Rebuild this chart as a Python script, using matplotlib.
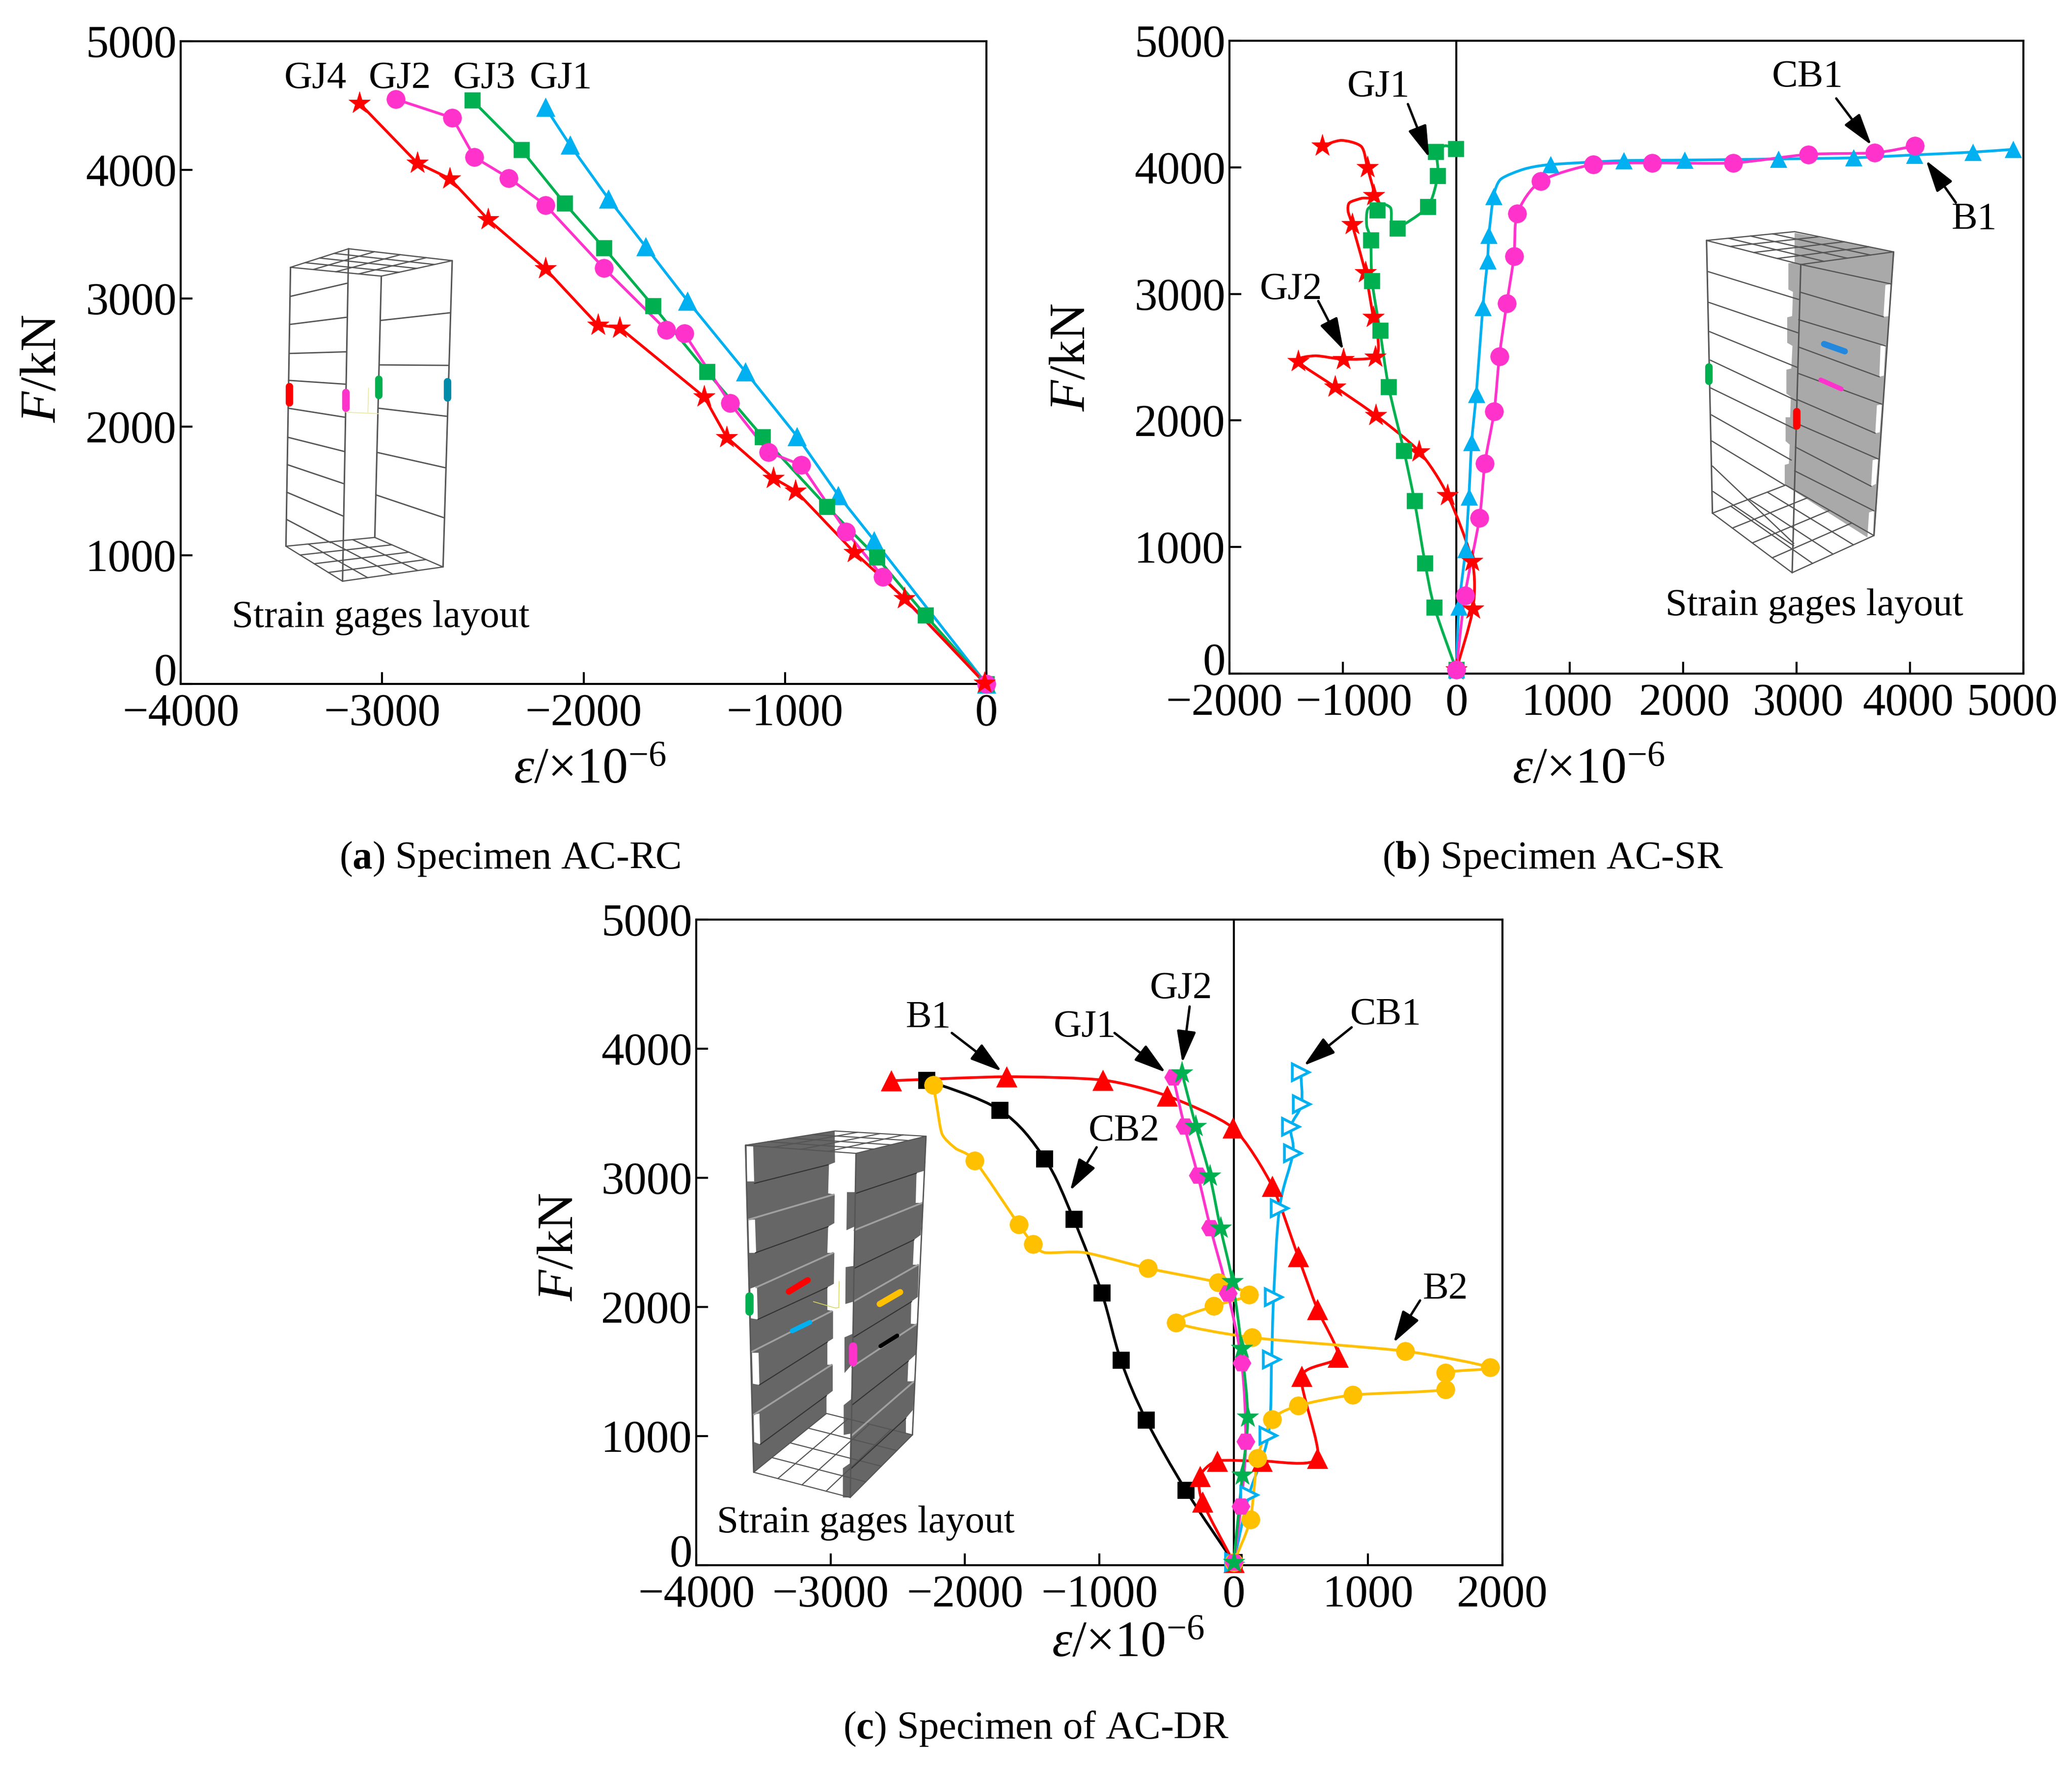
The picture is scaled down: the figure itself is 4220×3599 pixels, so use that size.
import numpy as np
import matplotlib
matplotlib.use("Agg")
import matplotlib.pyplot as plt
from matplotlib.path import Path
from matplotlib.patches import PathPatch, Polygon
from matplotlib.transforms import ScaledTranslation

plt.rcParams["font.family"] = ["Liberation Serif", "DejaVu Serif"]
plt.rcParams["mathtext.fontset"] = "custom"
plt.rcParams["mathtext.rm"] = "Liberation Serif"
plt.rcParams["mathtext.it"] = "Liberation Serif:italic"
plt.rcParams["mathtext.bf"] = "Liberation Serif:bold"

W, H = 4220, 3599
RED, MAG, GRN, BLU, YEL = "#FF0000", "#FF33CC", "#00B050", "#00B0F0", "#FFC000"

# -----------------------------
# PANEL A DATA (strain, load)
# -----------------------------
a_gj1_x = [-2190, -2068, -1876, -1692, -1484, -1197, -940, -735, -557, 0]
a_gj1_y = [4487, 4194, 3774, 3402, 2981, 2430, 1926, 1467, 1116, 0]
a_gj3_x = [-2552, -2308, -2094, -1899, -1655, -1388, -1111, -791, -544, -303, 0]
a_gj3_y = [4540, 4155, 3739, 3393, 2942, 2430, 1922, 1379, 985, 534, 0]
a_gj2_x = [-2932, -2651, -2542, -2371, -2190, -1899, -1590, -1500, -1273, -1082, -920, -696, -514, 0]
a_gj2_y = [4549, 4404, 4098, 3936, 3726, 3235, 2754, 2727, 2185, 1804, 1703, 1186, 832, 0]
a_gj4_x = [-3113, -2826, -2664, -2473, -2190, -1929, -1820, -1401, -1289, -1058, -947, -656, -406, -10]
a_gj4_y = [4518, 4054, 3931, 3612, 3231, 2793, 2771, 2233, 1918, 1602, 1502, 1024, 665, 9]

# -----------------------------
# PANEL B DATA
# -----------------------------
b_b1_x = [4911, 4553, 4038, 3500, 2839, 2013, 1475, 831, 328, 287, 275, 234, 176, 135, 111, 82, 23, 0]
b_b1_y = [4142, 4120, 4098, 4075, 4066, 4057, 4053, 4022, 3769, 3462, 3262, 2893, 2209, 1826, 1395, 982, 529, 30]
# curve, it does not bend only at the markers
b_b1_line_x = [4911, 4553, 4038, 3500, 2839, 2013, 1475, 831, 597, 392, 328, 287, 275, 234, 176, 135, 111, 82, 23, 0]
b_b1_line_y = [4142, 4120, 4098, 4075, 4066, 4057, 4053, 4022, 3986, 3906, 3769, 3462, 3262, 2893, 2209, 1826, 1395, 982, 529, 30]
b_cb1_x = [4044, 3687, 3102, 2441, 1727, 1206, 743, 538, 509, 445, 380, 334, 252, 205, 76, 0]
b_cb1_y = [4169, 4115, 4102, 4035, 4035, 4022, 3889, 3635, 3298, 2924, 2507, 2071, 1662, 1231, 618, 30]
b_gj1_x = [-6, -181, -164, -252, -521, -696, -755, -743, -673, -597, -462, -369, -275, -193, 0]
b_gj1_y = [4146, 4124, 3933, 3689, 3520, 3662, 3426, 3102, 2711, 2267, 1760, 1364, 871, 524, 30]
b_gj1_line_x = [-6, -100, -170, -164, -252, -521, -570, -580, -680, -780, -790, -755, -743, -673, -597, -462, -369, -275, -193, 0]
b_gj1_line_y = [4146, 4170, 4110, 3933, 3689, 3520, 3560, 3680, 3715, 3670, 3540, 3426, 3102, 2711, 2267, 1760, 1364, 871, 524, 30]
b_gj2_x = [0, 146, 140, -76, -328, -708, -1071, -1393, -995, -714, -732, -802, -919, -726, -784, -1182]
b_gj2_y = [30, 511, 889, 1409, 1755, 2040, 2266, 2466, 2484, 2502, 2818, 3169, 3551, 3777, 4000, 4169]
b_gj2_line_x = [0, 146, 140, -76, -328, -708, -1071, -1393, -1247, -995, -714, -691, -732, -802, -919, -954, -942, -837, -726, -784, -837, -1013, -1182]
b_gj2_line_y = [30, 511, 889, 1409, 1755, 2040, 2266, 2466, 2511, 2484, 2502, 2653, 2818, 3169, 3551, 3653, 3720, 3755, 3777, 4000, 4164, 4213, 4169]
b_tick_shift = [-11, 22, 1, -5, 3, 3, -4, -23]

# -----------------------------
# PANEL C DATA
# -----------------------------
c_cb2_x = [-2288, -1740, -1408, -1191, -983, -840, -652, -356, 0]
c_cb2_y = [3757, 3525, 3150, 2679, 2112, 1588, 1126, 580, 22]
c_b1_x = [-2550, -1690, -974, -494, -5, 287, 479, 623, 776, 504, 623, 208, -124, -252, -232, 0]
c_b1_y = [3752, 3783, 3757, 3634, 3386, 2936, 2391, 1981, 1614, 1462, 829, 807, 807, 689, 489, 22]
c_gj1_x = [-450, -366, -267, -173, -44, 59, 89, 54, 0]
c_gj1_y = [3778, 3399, 3019, 2613, 2107, 1566, 960, 458, 22]
c_gj2_x = [-385, -282, -178, -99, -10, 59, 104, 64, 0]
c_gj2_y = [3813, 3399, 3015, 2613, 2199, 1680, 1147, 698, 22]
c_cb1_x = [499, 504, 425, 440, 341, 297, 282, 257, 114, 0]
c_cb1_y = [3818, 3569, 3394, 3189, 2766, 2077, 1592, 1003, 545, 22]
c_b2_x = [-2234, -1927, -1601, -1492, -638, -114, 114, -148, -430, 138, 1275, 1908, 1577, 1577, 885, 479, 287, 178, 124, 0]
c_b2_y = [3717, 3133, 2640, 2487, 2299, 2190, 2094, 2007, 1880, 1763, 1658, 1531, 1492, 1361, 1318, 1235, 1130, 829, 353, 22]
c_b2_line_x = [-2234, -2209, -2170, -2071, -1927, -1601, -1492, -1403, -1107, -638, -114, 114, -148, -430, 138, 1275, 1908, 1577, 1577, 885, 479, 287, 178, 124, 0]
c_b2_line_y = [3717, 3556, 3338, 3229, 3133, 2640, 2487, 2421, 2421, 2299, 2190, 2094, 2007, 1880, 1763, 1658, 1531, 1492, 1361, 1318, 1235, 1130, 829, 353, 22]

y_ticks = [0, 1000, 2000, 3000, 4000, 5000]


def smooth_line(ax, xs, ys, color, lw=4.0, tension=1.0):
    # catmull-rom through the read points, same look as the original curves
    p = np.column_stack([xs, ys]).astype(float)
    verts, codes = [p[0]], [Path.MOVETO]
    for i in range(len(p) - 1):
        p0 = p[max(i - 1, 0)]
        p3 = p[min(i + 2, len(p) - 1)]
        c1 = p[i] + tension * (p[i + 1] - p0) / 6
        c2 = p[i + 1] - tension * (p3 - p[i]) / 6
        verts += [c1, c2, p[i + 1]]
        codes += [Path.CURVE4] * 3
    ax.add_patch(PathPatch(Path(verts, codes), fill=False, edgecolor=color, lw=lw, clip_on=False, zorder=3))


def series(ax, xs, ys, color, marker, ms, curved=True, mfc=None, tension=1.0, line=None):
    lx, ly = (xs, ys) if line is None else line
    if curved:
        smooth_line(ax, lx, ly, color, tension=tension)
    else:
        ax.plot(lx, ly, color=color, lw=4.0, clip_on=False, zorder=3)
    ax.plot(xs, ys, ls="none", marker=marker, ms=ms, mfc=color if mfc is None else mfc, mec=color,
            mew=4.0 if mfc is not None else 0.5, clip_on=False, zorder=4)


def make_axes(x0, y0, x1, y1, xlim, xticks, xlabel_xy, ylabel_xy):
    ax = fig.add_axes([x0 / W, 1 - y1 / H, (x1 - x0) / W, (y1 - y0) / H])
    ax.set_xlim(*xlim)
    ax.set_ylim(0, 5000)
    ax.set_xticks(xticks)
    ax.set_yticks(y_ticks)
    ax.set_xticklabels([str(t).replace("-", "\u2212") for t in xticks])
    ax.tick_params(direction="in", length=17, width=3, labelsize=67, pad=14, top=False, right=False)
    ax.tick_params(axis="y", pad=6)
    # the 0 on the load axis sits a bit higher so it clears the strain labels
    zero = ax.get_yticklabels()[0]
    zero.set_transform(zero.get_transform() + ScaledTranslation(0, 0.30, fig.dpi_scale_trans))
    for sp in ax.spines.values():
        sp.set_linewidth(3)
    ax.patch.set_alpha(0)
    ov.text(*ylabel_xy, r"$\mathit{F}$/kN", fontsize=75, rotation=90, ha="center", va="center")
    ov.text(*xlabel_xy, "$\\mathit{\u03b5}$/\u00d710$^{\u22126}$", fontsize=75, ha="center", va="center")
    return ax


def arrow(x0, y0, x1, y1):
    ov.annotate("", xy=(x1, y1), xytext=(x0, y0),
                arrowprops=dict(arrowstyle="-|>,head_length=0.8,head_width=0.24", color="k", lw=3.5,
                                mutation_scale=50, shrinkA=0, shrinkB=0))


def zmap(ox, oy, sx, sy):
    return lambda pts: [(ox + x / sx, oy + y / sy) for x, y in pts]


def wire(m, pts, lw=2.2, color="#555555"):
    q = np.array(m(pts))
    ov.plot(q[:, 0], q[:, 1], color=color, lw=lw, solid_capstyle="round", zorder=2)


def fill(m, pts, color, z=1):
    ov.add_patch(Polygon(m(pts), closed=True, fc=color, ec="none", zorder=z))


def grid4(m, a, b, c, d, n=4, lw=1.8):
    a, b, c, d = [np.array(v, float) for v in (a, b, c, d)]
    wire(m, [a, b, c, d, a], lw)
    for k in range(1, n):
        t = k / n
        wire(m, [a + (b - a) * t, d + (c - d) * t], lw)
        wire(m, [a + (d - a) * t, b + (c - b) * t], lw)


def gauge(m, p0, p1, color, lw):
    q = np.array(m([p0, p1]))
    ov.plot(q[:, 0], q[:, 1], color=color, lw=lw, solid_capstyle="round", zorder=5)


def inset_a():
    m = zmap(540, 480, 3, 2.063)
    grid4(m, (155, 133), (510, 55), (1143, 105), (710, 170))
    grid4(m, (127, 1305), (670, 1268), (1087, 1392), (473, 1452))
    for e in [[(155, 133), (127, 1305)], [(510, 55), (473, 1452)], [(710, 170), (670, 1268)], [(1143, 105), (1087, 1392)]]:
        wire(m, e)
    for e in [[(155, 255), (500, 200)], [(150, 373), (497, 343)], [(147, 495), (495, 488)], [(143, 608), (490, 624)],
              [(140, 725), (488, 763)], [(138, 847), (485, 907)], [(135, 962), (480, 1042)], [(132, 1078), (476, 1178)],
              [(130, 1192), (400, 1290)], [(708, 356), (1130, 324)], [(700, 543), (1118, 545)], [(692, 725), (1110, 759)],
              [(686, 911), (1100, 975)], [(680, 1090), (1092, 1185)]]:
        wire(m, e, 2.0)
    wire(m, [(493, 742), (695, 748)], 1.2, "#E8E8A0")
    wire(m, [(628, 742), (632, 640)], 1.2, "#E8E8A0")
    gauge(m, (147, 634), (147, 702), RED, 11)
    gauge(m, (493, 658), (493, 725), MAG, 11)
    gauge(m, (692, 603), (692, 670), GRN, 11)
    gauge(m, (1112, 612), (1112, 680), "#008CA8", 11)


def inset_b():
    m = zmap(3440, 450, 3, 2.063)
    grey = "#A9A9A9"
    grid4(m, (143, 1228), (590, 1110), (1130, 1322), (630, 1478))
    fill(m, [(645, 50), (1250, 130), (1130, 1322), (1090, 1330), (585, 1110), (585, 1025), (610, 1020), (615, 940), (590, 925),
             (590, 825), (618, 825), (622, 740), (595, 725), (595, 625), (625, 620), (632, 525), (600, 512), (600, 405),
             (630, 400), (635, 298), (607, 288), (607, 178), (645, 175)], grey)
    for s in [[(1200, 270), (1232, 265), (1220, 400), (1188, 403)], [(1170, 525), (1200, 520), (1190, 650), (1163, 655)],
              [(1148, 775), (1178, 770), (1165, 888), (1138, 892)], [(1122, 1005), (1155, 1000), (1142, 1105), (1113, 1115)],
              [(1100, 1225), (1130, 1218), (1125, 1322), (1090, 1330)]]:
        fill(m, s, "white", 1.5)
    grid4(m, (107, 82), (645, 45), (1250, 130), (683, 183))
    for e in [[(107, 82), (143, 1228)], [(683, 183), (630, 1478)], [(1250, 130), (1130, 1322)]]:
        wire(m, e)
    for e in [[(117, 213), (670, 330)], [(120, 342), (665, 470)], [(125, 465), (660, 615)], [(130, 585), (655, 755)],
              [(133, 702), (650, 875)], [(137, 815), (625, 1005)], [(140, 925), (585, 1110)], [(143, 1030), (640, 1355)],
              [(147, 1137), (640, 1365)], [(683, 300), (1188, 403)], [(670, 415), (1200, 525)], [(670, 530), (1163, 655)],
              [(665, 640), (1178, 770)], [(660, 750), (1138, 892)], [(655, 850), (1155, 1000)], [(650, 950), (1113, 1115)],
              [(645, 1050), (1130, 1218)], [(683, 183), (1235, 265)]]:
        wire(m, e, 1.8)
    gauge(m, (119, 612), (119, 673), GRN, 11)
    gauge(m, (658, 800), (658, 860), RED, 11)
    gauge(m, (825, 517), (952, 548), "#2288DD", 9)
    gauge(m, (805, 668), (930, 706), MAG, 7)


def inset_c():
    m = zmap(1490, 2290, 3, 2.063)
    dark, light = "#666666", "#A0A0A0"
    grid4(m, (135, 1462), (580, 1215), (1105, 1305), (725, 1568), lw=1.6)
    grid4(m, (85, 88), (630, 28), (1188, 50), (760, 122), lw=1.6)
    fill(m, [(85, 88), (630, 28), (632, 160), (595, 170), (590, 290), (630, 295), (628, 415), (590, 430), (585, 540), (628, 540),
             (625, 670), (585, 685), (585, 780), (620, 785), (620, 900), (585, 915), (585, 1010), (618, 1010), (618, 1120),
             (580, 1140), (580, 1215), (135, 1462)], dark)
    for s in [[(92, 92), (132, 92), (138, 240), (95, 240)], [(103, 402), (143, 400), (150, 540), (108, 540)],
              [(115, 690), (155, 680), (160, 820), (118, 815)], [(125, 960), (165, 960), (170, 1095), (130, 1090)],
              [(135, 1220), (170, 1215), (175, 1345), (138, 1335)]]:
        fill(m, s, "white", 1.5)
    fill(m, [(760, 122), (1188, 50), (1178, 195), (1130, 205), (1125, 330), (1170, 330), (1155, 465), (1115, 485), (1108, 590),
             (1145, 590), (1138, 725), (1098, 745), (1095, 838), (1135, 840), (1128, 965), (1080, 995), (1075, 1080), (1118, 1080),
             (1108, 1200), (1065, 1235), (1065, 1300), (1105, 1305), (725, 1568), (680, 1568), (680, 1445), (722, 1425), (725, 1300),
             (685, 1305), (685, 1180), (730, 1155), (735, 1010), (690, 1045), (690, 895), (740, 880), (745, 745), (695, 755),
             (697, 600), (745, 595), (750, 430), (702, 445), (705, 285), (755, 285)], dark)
    for e in [[(105, 400), (625, 295)], [(150, 685), (620, 540)], [(125, 955), (612, 785)], [(135, 1220), (612, 1010)],
              [(750, 445), (1165, 330)], [(745, 745), (1140, 590)], [(735, 1020), (1130, 840)], [(730, 1310), (1115, 1080)]]:
        wire(m, e, 2.6, light)
    for e in [[(140, 248), (590, 170)], [(145, 540), (590, 430)], [(160, 820), (585, 685)], [(170, 1095), (585, 915)],
              [(175, 1345), (580, 1140)], [(760, 290), (1130, 205)], [(750, 605), (1115, 485)], [(745, 895), (1100, 745)],
              [(735, 1180), (1080, 995)], [(725, 1450), (1065, 1235)]]:
        wire(m, e, 1.6, "#333333")
    for e in [[(85, 88), (135, 1462)], [(760, 122), (725, 1568)], [(1188, 50), (1105, 1305)]]:
        wire(m, e, 2.0)
    wire(m, [(500, 745), (635, 772), (655, 770), (657, 660)], 1.2, "#D8D860")
    gauge(m, (107, 722), (107, 785), GRN, 12)
    gauge(m, (740, 932), (740, 998), MAG, 12)
    gauge(m, (350, 703), (465, 655), RED, 9)
    gauge(m, (905, 755), (1030, 705), YEL, 9)
    gauge(m, (370, 868), (478, 832), BLU, 7)
    gauge(m, (910, 932), (1012, 888), "k", 6)


fig = plt.figure(figsize=(W / 100, H / 100), dpi=100, facecolor="white")
ov = fig.add_axes([0, 0, 1, 1], zorder=10)
ov.set_xlim(0, W)
ov.set_ylim(H, 0)
ov.set_autoscale_on(False)
ov.axis("off")
ov.patch.set_alpha(0)

z1 = lambda x, y: (x * 1.3526, y * 1.146)
z2 = lambda x, y: (2110 + x * 1.3526, y * 1.146)
z3 = lambda x, y: (1100 + x * 1.3526, 1800 + y * 1.147)

# -----------------------------
# PANEL A
# -----------------------------
ax_a = make_axes(368, 84, 2009, 1393, (-4000, 0), [-4000, -3000, -2000, -1000, 0], z1(888, 1370), z1(65, 655))
series(ax_a, a_gj1_x, a_gj1_y, BLU, "^", 27, curved=False)
series(ax_a, a_gj3_x, a_gj3_y, GRN, "s", 23, curved=False)
series(ax_a, a_gj2_x, a_gj2_y, MAG, "o", 27, curved=False)
series(ax_a, a_gj4_x, a_gj4_y, RED, "*", 34, curved=False)
for name, sx in zip(["GJ4", "GJ2", "GJ3", "GJ1"], [475, 602, 729, 845]):
    ov.text(*z1(sx, 140), name, fontsize=57, ha="center", va="center")
inset_a()
ov.text(*z1(573, 1098), "Strain gages layout", fontsize=57, ha="center", va="center")
ov.text(*z1(768, 1527), r"($\mathbf{a}$) Specimen AC-RC", fontsize=58, ha="center", va="center")

# -----------------------------
# PANEL B
# -----------------------------
ax_b = make_axes(2504, 83, 4121, 1372, (-2000, 5000), [-2000, -1000, 0, 1000, 2000, 3000, 4000, 5000], z2(832, 1370), z2(55, 635))
ax_b.axvline(0, color="k", lw=3, zorder=2)
for lab, dx in zip(ax_b.get_xticklabels(), b_tick_shift):
    lab.set_transform(lab.get_transform() + ScaledTranslation(dx / 100, 0, fig.dpi_scale_trans))
series(ax_b, b_gj2_x, b_gj2_y, RED, "*", 34, line=(b_gj2_line_x, b_gj2_line_y), tension=0.8)
series(ax_b, b_gj1_x, b_gj1_y, GRN, "s", 23, line=(b_gj1_line_x, b_gj1_line_y), tension=0.8)
series(ax_b, b_b1_x, b_b1_y, BLU, "^", 24, line=(b_b1_line_x, b_b1_line_y), tension=0.7)
series(ax_b, b_cb1_x, b_cb1_y, MAG, "o", 27, tension=0.8)
for name, sx, sy in [("GJ1", 516, 155), ("CB1", 1162, 137), ("B1", 1413, 390), ("GJ2", 384, 515)]:
    ov.text(*z2(sx, sy), name, fontsize=57, ha="center", va="center")
arrow(*z2(560, 185), *z2(592, 280))
arrow(*z2(1205, 175), *z2(1258, 258))
arrow(*z2(1385, 360), *z2(1340, 285))
arrow(*z2(425, 535), *z2(463, 622))
inset_b()
ov.text(*z2(1172, 1077), "Strain gages layout", fontsize=57, ha="center", va="center")
ov.text(*z2(778, 1527), r"($\mathbf{b}$) Specimen AC-SR", fontsize=58, ha="center", va="center")

# -----------------------------
# PANEL C
# -----------------------------
ax_c = make_axes(1418, 1873, 3060, 3188, (-4000, 2000), [-4000, -3000, -2000, -1000, 0, 1000, 2000], z3(885, 1350), z3(30, 645))
ax_c.axvline(0, color="k", lw=3, zorder=2)
series(ax_c, c_cb2_x, c_cb2_y, "k", "s", 25)
series(ax_c, c_b1_x, c_b1_y, RED, "^", 30, tension=0.7)
series(ax_c, c_cb1_x, c_cb1_y, BLU, ">", 24, mfc="white")
series(ax_c, c_b2_x, c_b2_y, YEL, "o", 27, tension=0.7, line=(c_b2_line_x, c_b2_line_y))
series(ax_c, c_gj1_x, c_gj1_y, MAG, "H", 27)
series(ax_c, c_gj2_x, c_gj2_y, GRN, "*", 34)
for name, sx, sy in [("B1", 585, 238), ("GJ1", 820, 255), ("GJ2", 965, 187), ("CB1", 1273, 233), ("CB2", 879, 440), ("B2", 1363, 720)]:
    ov.text(*z3(sx, sy), name, fontsize=57, ha="center", va="center")
arrow(*z3(620, 265), *z3(695, 333))
arrow(*z3(865, 265), *z3(942, 335))
arrow(*z3(978, 218), *z3(967, 318))
arrow(*z3(1222, 255), *z3(1150, 323))
arrow(*z3(838, 468), *z3(798, 545))
arrow(*z3(1325, 740), *z3(1285, 815))
inset_c()
ov.text(*z3(490, 1135), "Strain gages layout", fontsize=57, ha="center", va="center")
ov.text(*z3(747, 1500), r"($\mathbf{c}$) Specimen of AC-DR", fontsize=58, ha="center", va="center")

fig.savefig("out.png", dpi=100)
plt.close(fig)
